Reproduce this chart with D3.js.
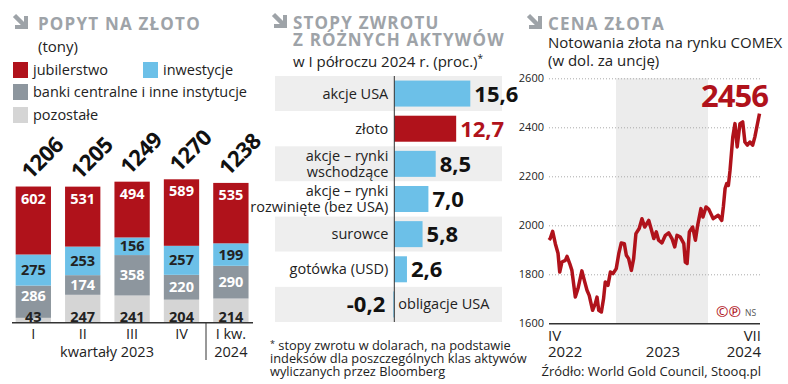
<!DOCTYPE html>
<html>
<head>
<meta charset="utf-8">
<script src="https://cdn.jsdelivr.net/npm/d3@7"></script>
<style>
  body { margin: 0; background: #fff; }
  svg { display: block; font-family: "Open Sans", "Noto Sans", sans-serif; }
</style>
</head>
<body>
<div class="chart"></div>
<script>
// --- data: popyt na zloto (tony)
const quarters = ["I", "II", "III", "IV", "I kw."];
const jubilerstwo = [602, 531, 494, 589, 535];
const inwestycje = [275, 253, 156, 257, 199];
const banki = [286, 174, 358, 220, 290];
const pozostale = [43, 247, 241, 204, 214];
const totals = [1206, 1205, 1249, 1270, 1238];

// --- data: stopy zwrotu (proc.)
const assets = ["akcje USA", "złoto", "akcje – rynki\nwschodzące", "akcje – rynki\nrozwinięte (bez USA)", "surowce", "gotówka (USD)", "obligacje USA"];
const returns = [15.6, 12.7, 8.5, 7.0, 5.8, 2.6, -0.2];

// --- data: cena zlota COMEX (USD/oz)
const goldDates = [
  "2022-04-01", "2022-04-06", "2022-04-16", "2022-04-27", "2022-05-08", "2022-05-15", "2022-05-24",
  "2022-06-07", "2022-06-14", "2022-06-25", "2022-07-04", "2022-07-18", "2022-07-29", "2022-08-14",
  "2022-08-24", "2022-09-04", "2022-09-13", "2022-09-27", "2022-10-08", "2022-10-15", "2022-10-22",
  "2022-11-02", "2022-11-11", "2022-11-18", "2022-11-29", "2022-12-09", "2022-12-20", "2023-01-02",
  "2023-01-12", "2023-01-22", "2023-02-03", "2023-02-11", "2023-02-20", "2023-03-03", "2023-03-12",
  "2023-03-21", "2023-04-03", "2023-04-14", "2023-04-25", "2023-05-11", "2023-05-20", "2023-05-31",
  "2023-06-10", "2023-06-19", "2023-07-02", "2023-07-16", "2023-07-29", "2023-08-11", "2023-08-22",
  "2023-08-31", "2023-09-13", "2023-09-27", "2023-10-03", "2023-10-10", "2023-10-19", "2023-11-01",
  "2023-11-12", "2023-11-21", "2023-12-04", "2023-12-12", "2023-12-24", "2024-01-04", "2024-01-20",
  "2024-02-07", "2024-02-20", "2024-02-26", "2024-03-03", "2024-03-09", "2024-03-15", "2024-03-21",
  "2024-03-31", "2024-04-08", "2024-04-16", "2024-04-26", "2024-05-06", "2024-05-14", "2024-05-23",
  "2024-06-01", "2024-06-11", "2024-06-19", "2024-06-25", "2024-07-06"
];
const goldPrices = [
  1940, 1946, 1975, 1925, 1886, 1809, 1850,
  1857, 1873, 1844, 1816, 1707, 1742, 1814,
  1775, 1735, 1714, 1653, 1680, 1707, 1653,
  1646, 1701, 1769, 1755, 1809, 1803, 1823,
  1884, 1928, 1925, 1878, 1864, 1816, 1864,
  1966, 1987, 2027, 1993, 2020, 1987, 1946,
  1973, 1939, 1928, 1959, 1969, 1946, 1912,
  1959, 1952, 1925, 1850, 1844, 1973, 1993,
  1939, 2000, 2068, 2034, 2075, 2065, 2027,
  2041, 2020, 2078, 2150, 2170, 2163, 2224,
  2360, 2415, 2320, 2415, 2422, 2340, 2327,
  2340, 2327, 2360, 2394, 2456
];
const goldTicks = [1600, 1800, 2000, 2200, 2400, 2600];

const RED = "#b0121b";
const BLUE = "#6cc0e8";
const DGRAY = "#8d969e";
const LGRAY = "#d5d5d5";
const TITLE = "#9ea3a8";
const INK = "#222";

const svg = d3.select(".chart").append("svg").attr("width", 788).attr("height", 384);

// gray arrow used in the titles
function arrow(x, y) {
  const g = svg.append("g").attr("transform", `translate(${x}, ${y})`);
  g.append("path").attr("d", "M1.5,1.5 L11,11").attr("stroke", TITLE).attr("stroke-width", 4.5);
  g.append("path").attr("d", "M15,2 L15,15 L2,15 L2,11 L11,11 L11,2 Z").attr("fill", TITLE);
}

function title(x, y, lines) {
  lines.forEach(function (t, i) {
    svg.append("text").attr("x", x).attr("y", y + i * 17)
      .attr("font-size", 17).attr("font-weight", 700).attr("letter-spacing", 1.2)
      .attr("fill", TITLE).text(t);
  });
}

// ================= LEFT: popyt na zloto
arrow(13, 14);
title(38, 30, ["POPYT NA ZŁOTO"]);
svg.append("text").attr("x", 38).attr("y", 52).attr("font-size", 15).attr("fill", INK).text("(tony)");

const legend = [
  { name: "jubilerstwo", color: RED, x: 13, y: 62 },
  { name: "inwestycje", color: BLUE, x: 143, y: 62 },
  { name: "banki centralne i inne instytucje", color: DGRAY, x: 13, y: 84 },
  { name: "pozostałe", color: LGRAY, x: 13, y: 107 }
];
legend.forEach(function (d) {
  svg.append("rect").attr("x", d.x).attr("y", d.y).attr("width", 15).attr("height", 16).attr("fill", d.color);
  svg.append("text").attr("x", d.x + 20).attr("y", d.y + 13).attr("font-size", 14.5).attr("fill", INK).text(d.name);
});

const demand = quarters.map(function (q, i) {
  return { q: q, pozostale: pozostale[i], banki: banki[i], inwestycje: inwestycje[i], jubilerstwo: jubilerstwo[i], total: totals[i] };
});
const keys = ["pozostale", "banki", "inwestycje", "jubilerstwo"];
const segColor = { pozostale: LGRAY, banki: DGRAY, inwestycje: BLUE, jubilerstwo: RED };
const segText = { pozostale: INK, banki: "#fff", inwestycje: INK, jubilerstwo: "#fff" };

const xq = d3.scaleBand().domain(quarters).range([8.6, 255.6]).paddingInner(0.285).paddingOuter(0.143);
const yq = d3.scaleLinear().domain([0, 1270]).range([322.7, 179.3]);
const base = yq(0);

const stacked = d3.stack().keys(keys)(demand);

svg.append("g").selectAll("g").data(stacked).enter().append("g")
  .attr("fill", function (s) { return segColor[s.key]; })
  .selectAll("rect").data(function (s) { return s; }).enter().append("rect")
  .attr("x", function (d) { return xq(d.data.q); })
  .attr("width", xq.bandwidth())
  .attr("y", function (d) { return yq(d[1]); })
  .attr("height", function (d) { return yq(d[0]) - yq(d[1]); });

// segment labels drawn after all rects so thin segments do not hide them
const labels = svg.append("g");
stacked.forEach(function (s) {
  labels.append("g").selectAll("text").data(s).enter().append("text")
    .attr("x", function (d) { return xq(d.data.q) + xq.bandwidth() / 2; })
    .attr("y", function (d) {
      if (s.key === "jubilerstwo") return yq(d[1]) + 17;
      if (s.key === "pozostale") return base - 1;
      const c = (yq(d[0]) + yq(d[1])) / 2;
      if (s.key === "banki") return Math.min(c, base - 27) + 5;
      return c + 5;
    })
    .attr("text-anchor", "middle").attr("font-size", 14.5).attr("font-weight", 700)
    .attr("fill", segText[s.key])
    .text(function (d) { return d.data[s.key]; });
});

// totals, rotated
svg.append("g").selectAll("text").data(demand).enter().append("text")
  .attr("transform", function (d) { return `translate(${xq(d.q) + 15}, ${yq(d.total) - 6}) rotate(-45)`; })
  .attr("font-size", 22).attr("font-weight", 700).attr("fill", "#111").attr("letter-spacing", -0.5)
  .text(function (d) { return d.total; });

svg.append("line").attr("x1", 12).attr("x2", 253).attr("y1", base).attr("y2", base).attr("stroke", "#333").attr("stroke-width", 1.5);
svg.append("line").attr("x1", 206).attr("x2", 206).attr("y1", base).attr("y2", 360).attr("stroke", "#333").attr("stroke-width", 1);

svg.append("g").selectAll("text").data(quarters).enter().append("text")
  .attr("x", function (d) { return xq(d) + xq.bandwidth() / 2; })
  .attr("y", 339).attr("text-anchor", "middle").attr("font-size", 14.5).attr("fill", INK)
  .text(function (d) { return d; });
svg.append("text").attr("x", xq("I kw.") + xq.bandwidth() / 2).attr("y", 357).attr("text-anchor", "middle")
  .attr("font-size", 14.5).attr("fill", INK).text("2024");
svg.append("text").attr("x", 107).attr("y", 357).attr("text-anchor", "middle")
  .attr("font-size", 14.5).attr("fill", INK).text("kwartały 2023");

// ================= MIDDLE: stopy zwrotu
arrow(272, 13);
title(293, 29, ["STOPY ZWROTU", "Z RÓŻNYCH AKTYWÓW"]);
svg.append("text").attr("x", 293).attr("y", 67).attr("font-size", 15).attr("fill", INK).text("w I półroczu 2024 r. (proc.)")
  .append("tspan").attr("font-size", 10).attr("dy", -5).text("*");

const yr = d3.scaleBand().domain(assets).range([76, 322]);
const xr = d3.scaleLinear().domain([0, 15.6]).range([394.3, 470.3]);
const fmt = function (v) { return d3.format(".1f")(v).replace(".", ",").replace("−", "-"); };

const rows = svg.append("g").selectAll("g").data(assets).enter().append("g")
  .attr("transform", function (d) { return `translate(0, ${yr(d)})`; });

rows.append("rect").attr("x", 275).attr("width", 227).attr("height", yr.bandwidth())
  .attr("fill", function (d, i) { return i % 2 === 0 ? "#eeeeee" : "#fff"; });

const barH = yr.bandwidth() * 0.74;
rows.append("rect")
  .attr("x", function (d, i) { return xr(Math.min(0, returns[i])); })
  .attr("y", (yr.bandwidth() - barH) / 2)
  .attr("width", function (d, i) { return Math.abs(xr(returns[i]) - xr(0)); })
  .attr("height", barH)
  .attr("fill", function (d) { return d === "złoto" ? RED : BLUE; });

rows.each(function (d, i) {
  const row = d3.select(this);
  const lines = d.split("\n");
  const neg = returns[i] < 0;
  const t = row.append("text")
    .attr("x", neg ? xr(0) + 4 : xr(0) - 6)
    .attr("text-anchor", neg ? "start" : "end")
    .attr("font-size", 14.5).attr("fill", INK);
  lines.forEach(function (l, j) {
    t.append("tspan").attr("x", neg ? xr(0) + 4 : xr(0) - 6)
      .attr("y", yr.bandwidth() / 2 + 5 + (j - (lines.length - 1) / 2) * 16).text(l);
  });
  row.append("text")
    .attr("x", neg ? xr(0) - 9 : xr(returns[i]) + 4)
    .attr("y", yr.bandwidth() / 2 + 8)
    .attr("text-anchor", neg ? "end" : "start")
    .attr("font-size", 22).attr("font-weight", 700)
    .attr("fill", d === "złoto" ? RED : "#111")
    .text(fmt(returns[i]));
});

svg.append("line").attr("x1", xr(0)).attr("x2", xr(0)).attr("y1", 76).attr("y2", 322).attr("stroke", "#333").attr("stroke-width", 1);

const notes = ["stopy zwrotu w dolarach, na podstawie", "indeksów dla poszczególnych klas aktywów", "wyliczanych przez Bloomberg"];
notes.forEach(function (n, i) {
  const t = svg.append("text").attr("x", 270).attr("y", 350 + i * 13).attr("font-size", 12.8).attr("fill", INK);
  if (i === 0) t.append("tspan").attr("font-size", 9).attr("dy", -3).text("*");
  t.append("tspan").attr("dy", i === 0 ? 3 : 0).text((i === 0 ? " " : "") + n);
});

// ================= RIGHT: cena zlota
arrow(527, 14);
title(548, 30, ["CENA ZŁOTA"]);
svg.append("text").attr("x", 548).attr("y", 48).attr("font-size", 15).attr("fill", INK).text("Notowania złota na rynku COMEX");
svg.append("text").attr("x", 548).attr("y", 66).attr("font-size", 15).attr("fill", INK).text("(w dol. za uncję)");

const parse = d3.timeParse("%Y-%m-%d");
const gold = goldDates.map(function (d, i) { return { date: parse(d), price: goldPrices[i] }; });
const xg = d3.scaleTime()
  .domain([parse("2022-04-01"), parse("2023-01-01"), parse("2024-01-01"), parse("2024-07-06")])
  .range([549, 616, 708, 759.5]);
const yg = d3.scaleLinear().domain([1600, 2600]).range([323.3, 78.3]);

svg.append("rect").attr("x", xg(parse("2023-01-01"))).attr("y", yg(2600))
  .attr("width", xg(parse("2024-01-01")) - xg(parse("2023-01-01"))).attr("height", yg(1600) - yg(2600))
  .attr("fill", "#ececec");

const yAxis = svg.append("g").attr("transform", "translate(549, 0)")
  .call(d3.axisLeft(yg).tickValues(goldTicks).tickSize(-211).tickPadding(5).tickFormat(d3.format("d")));
yAxis.select(".domain").remove();
yAxis.selectAll(".tick line").attr("stroke", "#aaa").attr("stroke-dasharray", "1,2")
  .filter(function (d) { return d === 1600; }).attr("stroke-dasharray", null).attr("stroke", "#333").attr("stroke-width", 1.5);
yAxis.selectAll(".tick text").attr("font-size", 11).attr("fill", INK).attr("font-family", "'Open Sans', sans-serif");

svg.append("path").datum(gold)
  .attr("fill", "none").attr("stroke", RED).attr("stroke-width", 3.5).attr("stroke-linejoin", "round")
  .attr("d", d3.line().x(function (d) { return xg(d.date); }).y(function (d) { return yg(d.price); }));

svg.append("text").attr("x", 768).attr("y", 107).attr("text-anchor", "end")
  .attr("font-size", 31).attr("font-weight", 700).attr("fill", RED).attr("letter-spacing", -1)
  .text(goldPrices[goldPrices.length - 1]);

const xl = [
  { t: ["IV", "2022"], x: 548, a: "start" },
  { t: ["2023"], x: 663, a: "middle" },
  { t: ["VII", "2024"], x: 761, a: "end" }
];
xl.forEach(function (d) {
  d.t.forEach(function (s, j) {
    svg.append("text").attr("x", d.x).attr("y", d.t.length === 1 ? 357 : 341 + j * 16)
      .attr("text-anchor", d.a).attr("font-size", 15).attr("fill", INK).text(s);
  });
});

svg.append("text").attr("x", 716).attr("y", 317).attr("font-size", 15).attr("fill", RED).text("©℗");
svg.append("text").attr("x", 745).attr("y", 316).attr("font-size", 8.5).attr("fill", "#555").text("NS");

svg.append("text").attr("x", 761).attr("y", 376).attr("text-anchor", "end").attr("font-size", 13).attr("fill", INK)
  .text("Źródło: World Gold Council, Stooq.pl");
</script>
</body>
</html>
